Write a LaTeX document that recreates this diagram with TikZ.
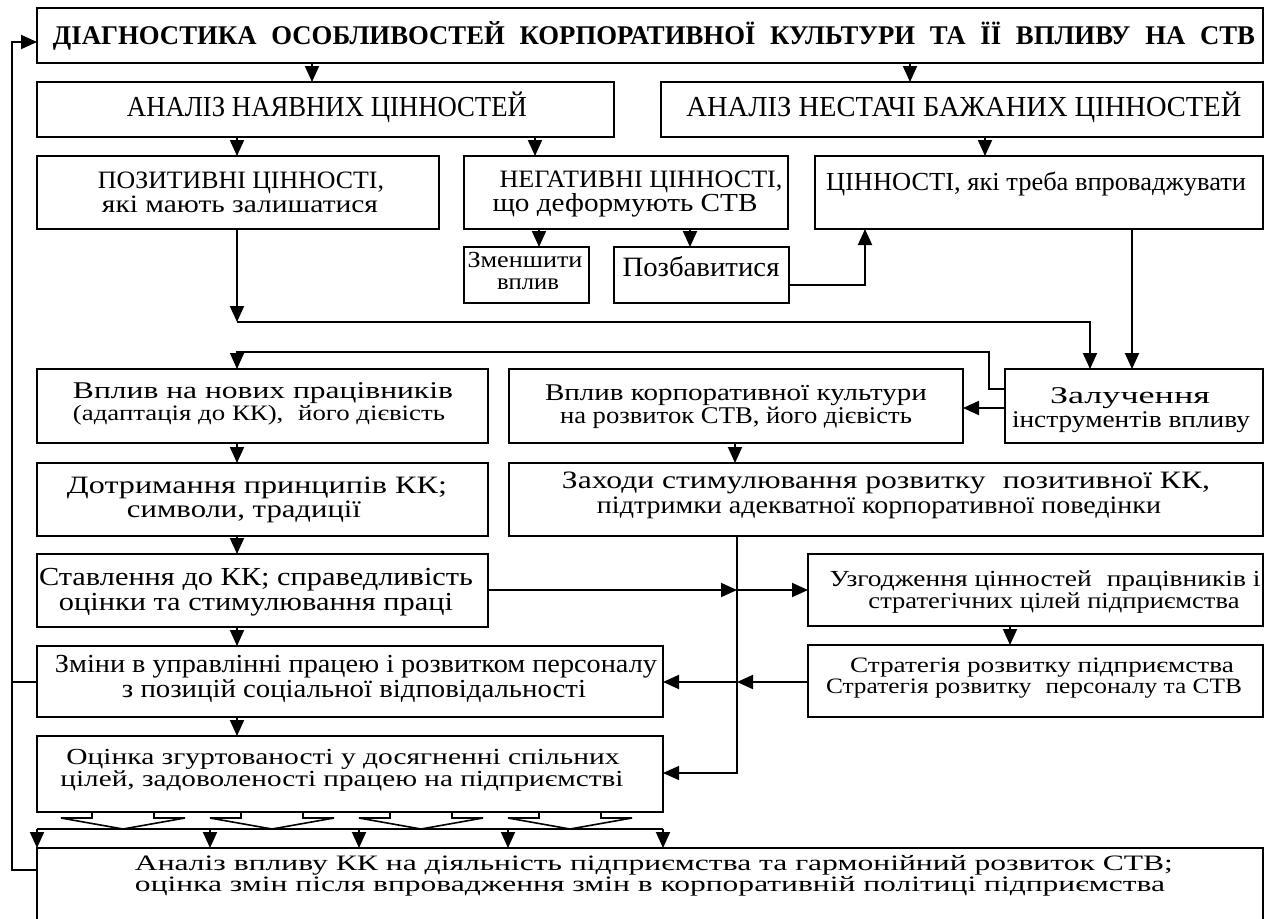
\documentclass[tikz,border=0pt]{standalone}
\usepackage{fontspec}
\setmainfont{Liberation Serif}
\usepackage{graphicx}
\usetikzlibrary{arrows.meta}

% one line of text: name, centre x, baseline y, width, font size, text
\newcommand\txtline[6]{%
  \node[txt] (#1) at (#2,#3) {\fontsize{#5}{#5}\selectfont\resizebox{#4pt}{\height}{#6}};}
% a line inside a text block: shift from the block centre, width, font size, text
\newcommand\tline[4]{%
  \hbox to 0pt{\hss\kern#1pt{\fontsize{#3}{#3}\selectfont\resizebox{#2pt}{\height}{#4}}\kern-#1pt\hss}}
% block of lines: name, centre x, first baseline y, line distance, lines
\newcommand\txtblock[5]{%
  \node[txt] (#1) at (#2,#3) {\vtop{\baselineskip=#4pt\lineskiplimit=-\maxdimen #5}};}
% framed box given by its corners: name, x1, y1, x2, y2
\newcommand\boxat[5]{%
  \node[box, minimum width={#4pt-#2pt}, minimum height={#5pt-#3pt}] (#1) at ({(#2+#4)/2},{(#3+#5)/2}) {};}
\newcommand\wsp{\hspace{0.55em}}

\tikzset{
  box/.style={draw, line width=1.8pt, inner sep=0pt, outer sep=0pt, rectangle},
  txt/.style={anchor=base, inner sep=0pt, outer sep=0pt},
  link/.style={line width=1.9pt},
  tip/.style={-{Triangle[length=16pt,width=14pt]}},
  arr/.style={link, tip},
  thinlink/.style={line width=1.3pt},
}

\begin{document}
\begin{tikzpicture}[x=1pt, y=-1pt]
\useasboundingbox (0,0) rectangle (1270,919);
\fill[white] (0,0) rectangle (1270,919);
\clip (0,0) rectangle (1270,919);

% ---------- boxes ----------
\boxat{title}{37}{8}{1263}{63}
\boxat{an1}{37}{82}{614}{137}
\boxat{an2}{661}{82}{1263}{137}
\boxat{pos}{37}{156}{439}{229}
\boxat{neg}{464}{156}{788}{229}
\boxat{need}{815}{156}{1263}{229}
\boxat{red}{464}{247}{589}{303}
\boxat{rid}{614}{247}{789}{303}
\boxat{newemp}{37}{369}{488}{443}
\boxat{cult}{509}{369}{963}{443}
\boxat{tools}{1005}{369}{1263}{443}
\boxat{princ}{37}{463}{488}{536}
\boxat{meas}{509}{463}{1263}{536}
\boxat{att}{37}{554}{488}{627}
\boxat{agree}{808}{554}{1263}{626}
\boxat{strat}{808}{645}{1263}{717}
\boxat{chg}{37}{646}{663}{717}
\boxat{eval}{37}{736}{663}{812}
\boxat{final}{37}{848}{1263}{940}

% ---------- texts ----------
\txtline{ttl}{654}{44}{1202}{27}{\bfseries ДІАГНОСТИКА\wsp ОСОБЛИВОСТЕЙ\wsp КОРПОРАТИВНОЇ\wsp КУЛЬТУРИ\wsp ТА\wsp ЇЇ\wsp ВПЛИВУ\wsp НА\wsp СТВ}
\txtline{an1t}{327}{116}{400}{29}{АНАЛІЗ НАЯВНИХ ЦІННОСТЕЙ}
\txtline{an2t}{964}{116}{555}{29}{АНАЛІЗ НЕСТАЧІ БАЖАНИХ ЦІННОСТЕЙ}
\txtblock{post}{241}{188}{24}{\tline{0}{286}{25}{ПОЗИТИВНІ ЦІННОСТІ,}\tline{-1}{276}{25}{які мають залишатися}}
\txtblock{negt}{641}{187}{24}{\tline{0}{283}{25}{НЕГАТИВНІ ЦІННОСТІ,}\tline{-16}{265}{26}{що деформують СТВ}}
\txtline{needt}{1036}{190}{420}{26}{ЦІННОСТІ, які треба впроваджувати}
\txtblock{redt}{525}{267}{22}{\tline{0}{115}{23}{Зменшити}\tline{3}{62}{23}{вплив}}
\txtline{ridt}{701}{276}{157}{28}{Позбавитися}
\txtblock{newt}{263}{398}{22}{\tline{0}{380}{24}{Вплив на нових працівників}\tline{-4}{372}{22}{(адаптація до КК),\wsp його дієвість}}
\txtblock{cultt}{736}{400}{23}{\tline{0}{382}{24}{Вплив корпоративної культури}\tline{0}{352}{24}{на розвиток СТВ, його дієвість}}
\txtblock{toolt}{1130}{403}{24}{\tline{0}{160}{24}{Залучення}\tline{1}{238}{24}{інструментів впливу}}
\txtblock{print}{257}{493}{24}{\tline{0}{380}{25}{Дотримання принципів КК;}\tline{-13}{234}{25}{символи, традиції}}
\txtblock{meast}{886}{488}{25}{\tline{0}{648}{25}{Заходи стимулювання розвитку\wsp позитивної КК,}\tline{-7}{564}{25}{підтримки адекватної корпоративної поведінки}}
\txtblock{attt}{256}{585}{25}{\tline{0}{434}{26}{Ставлення до КК; справедливість}\tline{0}{394}{26}{оцінки та стимулювання праці}}
\txtblock{agreet}{1045}{586}{22}{\tline{0}{431}{23}{Узгодження цінностей\wsp працівників і}\tline{9}{371}{23}{стратегічних цілей підприємства}}
\txtblock{stratt}{1042}{672}{21}{\tline{0}{384}{22}{Стратегія розвитку підприємства}\tline{-8}{416}{22}{Стратегія розвитку\wsp персоналу та СТВ}}
\txtblock{chgt}{356}{672}{25}{\tline{0}{602}{26}{Зміни в управлінні працею і розвитком персоналу}\tline{-2}{464}{26}{з позицій соціальної відповідальності}}
\txtblock{evalt}{343}{764}{22}{\tline{0}{553}{23}{Оцінка згуртованості у досягненні спільних}\tline{-1}{563}{23}{цілей, задоволеності працею на підприємстві}}
\txtblock{finalt}{654}{870}{21}{\tline{0}{1038}{22}{Аналіз впливу КК на діяльність підприємства та гармонійний розвиток СТВ;}\tline{-4}{1030}{22}{оцінка змін після впровадження змін в корпоративній політиці підприємства}}

% ---------- guide coordinates for connector columns and rows ----------
\coordinate (xo) at (12,0);
\coordinate (xa) at (237,0);
\coordinate (xb) at (312,0);
\coordinate (xc) at (535,0);
\coordinate (xd) at (539,0);
\coordinate (xe) at (690,0);
\coordinate (xf) at (865,0);
\coordinate (xg) at (910,0);
\coordinate (xh) at (985,0);
\coordinate (xk) at (989,0);
\coordinate (xi) at (1090,0);
\coordinate (xj) at (1132,0);
\coordinate (xl) at (735,0);
\coordinate (xm) at (737,0);
\coordinate (xn) at (1010,0);
\coordinate (q1) at (210,0);
\coordinate (q2) at (359,0);
\coordinate (q3) at (508,0);
\coordinate (r42) at (0,42);
\coordinate (r285) at (0,285);
\coordinate (r322) at (0,322);
\coordinate (r352) at (0,352);
\coordinate (r389) at (0,389);
\coordinate (r408) at (0,408);
\coordinate (r590) at (0,590);
\coordinate (r682) at (0,682);
\coordinate (r773) at (0,773);
\coordinate (r829) at (0,829);
\coordinate (r870) at (0,870);

% ---------- feedback loop on the left ----------
\draw[arr] (final.west |- r870) -- (xo |- r870) -- (xo |- r42) -- (title.west |- r42);
\draw[link] (chg.west |- r682) -- (xo |- r682);

% ---------- top part ----------
\draw[arr] (title.south -| xb) -- (an1.north -| xb);
\draw[arr] (title.south -| xg) -- (an2.north -| xg);
\draw[arr] (an1.south -| xa) -- (pos.north -| xa);
\draw[arr] (an1.south -| xc) -- (neg.north -| xc);
\draw[arr] (an2.south -| xh) -- (need.north -| xh);
\draw[arr] (neg.south -| xd) -- (red.north -| xd);
\draw[arr] (neg.south -| xe) -- (rid.north -| xe);
\draw[arr] (rid.east |- r285) -| (need.south -| xf);
\draw[arr] (pos.south -| xa) -- (xa |- r322);
\draw[arr] (xa |- r322) -| (tools.north -| xi);
\draw[arr] (need.south -| xj) -- (tools.north -| xj);

% ---------- middle part ----------
\draw[thinlink, tip] (tools.west |- r389) -- (xk |- r389) -- (xk |- r352) -- (xa |- r352) -- (newemp.north -| xa);
\draw[arr] (tools.west |- r408) -- (cult.east |- r408);
\draw[arr] (newemp.south -| xa) -- (princ.north -| xa);
\draw[arr] (princ.south -| xa) -- (att.north -| xa);
\draw[arr] (att.south -| xa) -- (chg.north -| xa);
\draw[arr] (chg.south -| xa) -- (eval.north -| xa);
\draw[arr] (cult.south -| xl) -- (meas.north -| xl);
\draw[thinlink, tip] (meas.south -| xm) |- (eval.east |- r773);
\draw[arr] (att.east |- r590) -- (xm |- r590);
\draw[arr] (xm |- r590) -- (agree.west |- r590);
\draw[arr] (agree.south -| xn) -- (strat.north -| xn);
\draw[arr] (strat.west |- r682) -- (xm |- r682);
\draw[arr] (xm |- r682) -- (chg.east |- r682);

% ---------- block arrows and distribution bar ----------
\foreach \t in {123,272,421,570}{
  \draw[line width=1.6pt, line join=miter]
    ({\t-31},812) -- ({\t-31},818) -- ({\t-62},818) -- (\t,829)
    -- ({\t+62},818) -- ({\t+31},818) -- ({\t+31},812);
}
\draw[link] (eval.west |- r829) -- (eval.east |- r829);
\draw[arr] (eval.west |- r829) -- (final.north -| eval.west);
\draw[arr] (q1 |- r829) -- (final.north -| q1);
\draw[arr] (q2 |- r829) -- (final.north -| q2);
\draw[arr] (q3 |- r829) -- (final.north -| q3);
\draw[arr] (eval.east |- r829) -- (final.north -| eval.east);
\end{tikzpicture}
\end{document}
